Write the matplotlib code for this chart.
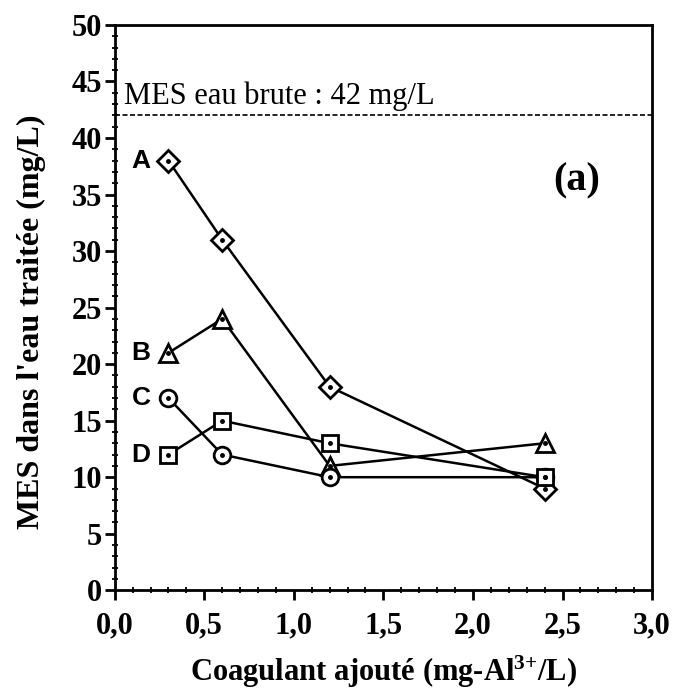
import matplotlib
matplotlib.use("Agg")
import matplotlib.pyplot as plt
from matplotlib.ticker import MultipleLocator, FuncFormatter

plt.rcParams["mathtext.fontset"] = "custom"
plt.rcParams["mathtext.rm"] = "Liberation Serif:bold"
plt.rcParams["mathtext.bf"] = "Liberation Serif:bold"
plt.rcParams["mathtext.it"] = "Liberation Serif:bold"

x = [0.3, 0.6, 1.2, 2.4]
series_A = [38, 31, 18, 9]
series_B = [21, 24, 11, 13]
series_C = [17, 12, 10, 10]
series_D = [12, 15, 13, 10]
labels = ["A", "B", "C", "D"]
raw_mes = 42

fig = plt.figure(figsize=(6.75, 6.92), dpi=100)
ax = fig.add_axes([0.170, 0.147, 0.796, 0.817])

serif = "Liberation Serif"
markers = ["D", "^", "o", "s"]
msizes = [11, 13, 12, 11]
for ys, m, ms, lab in zip([series_A, series_B, series_C, series_D], markers, msizes, labels):
    ax.plot(x, ys, color="black", lw=1.8, zorder=2)
    ax.plot(x, ys, ls="none", marker=m, ms=ms, mfc="white", mec="black", mew=2.0, zorder=3)
    ax.plot(x, ys, ls="none", marker="o", ms=2.5, color="black", zorder=4)
    ax.text(x[0] - 0.1, ys[0], lab, ha="right", va="center", fontsize=19,
            fontweight="bold", family="Liberation Sans")

ax.axhline(raw_mes, color="black", lw=1.2, ls=(0, (3, 1.5)), zorder=1)
ax.text(0.05, raw_mes + 0.4, "MES eau brute : 42 mg/L", ha="left", va="bottom",
        fontsize=22, family=serif)
ax.text(2.58, 36.2, "(a)", ha="center", va="center", fontsize=29, fontweight="bold", family=serif)

ax.set_xlim(0, 3.0)
ax.set_ylim(0, 50)
ax.xaxis.set_major_locator(MultipleLocator(0.5))
ax.xaxis.set_minor_locator(MultipleLocator(0.1))
ax.yaxis.set_major_locator(MultipleLocator(5))
ax.yaxis.set_minor_locator(MultipleLocator(1))
ax.xaxis.set_major_formatter(FuncFormatter(lambda v, p: f"{v:.1f}".replace(".", ",")))
ax.yaxis.set_major_formatter(FuncFormatter(lambda v, p: f"{int(round(v))}"))
ax.tick_params(which="major", direction="out", length=7, width=2.0, labelsize=22)
ax.tick_params(axis="x", which="major", pad=8)
ax.tick_params(axis="y", which="major", pad=2)
ax.tick_params(which="minor", direction="inout", length=5, width=1.3)
for lbl in ax.get_xticklabels() + ax.get_yticklabels():
    lbl.set_family(serif)
    lbl.set_fontweight("bold")
for s in ax.spines.values():
    s.set_linewidth(2.0)

ax.set_ylabel("MES dans l'eau traitée (mg/L)", fontsize=23, fontweight="bold", family=serif)
ax.set_xlabel("Coagulant ajouté (mg-Al$^{\\mathbf{3{+}}}$/L)", fontsize=22, fontweight="bold", family=serif)
ax.yaxis.set_label_coords(-0.128, 0.475)
ax.xaxis.set_label_coords(0.5, -0.112)

fig.savefig("out.png", dpi=100)
